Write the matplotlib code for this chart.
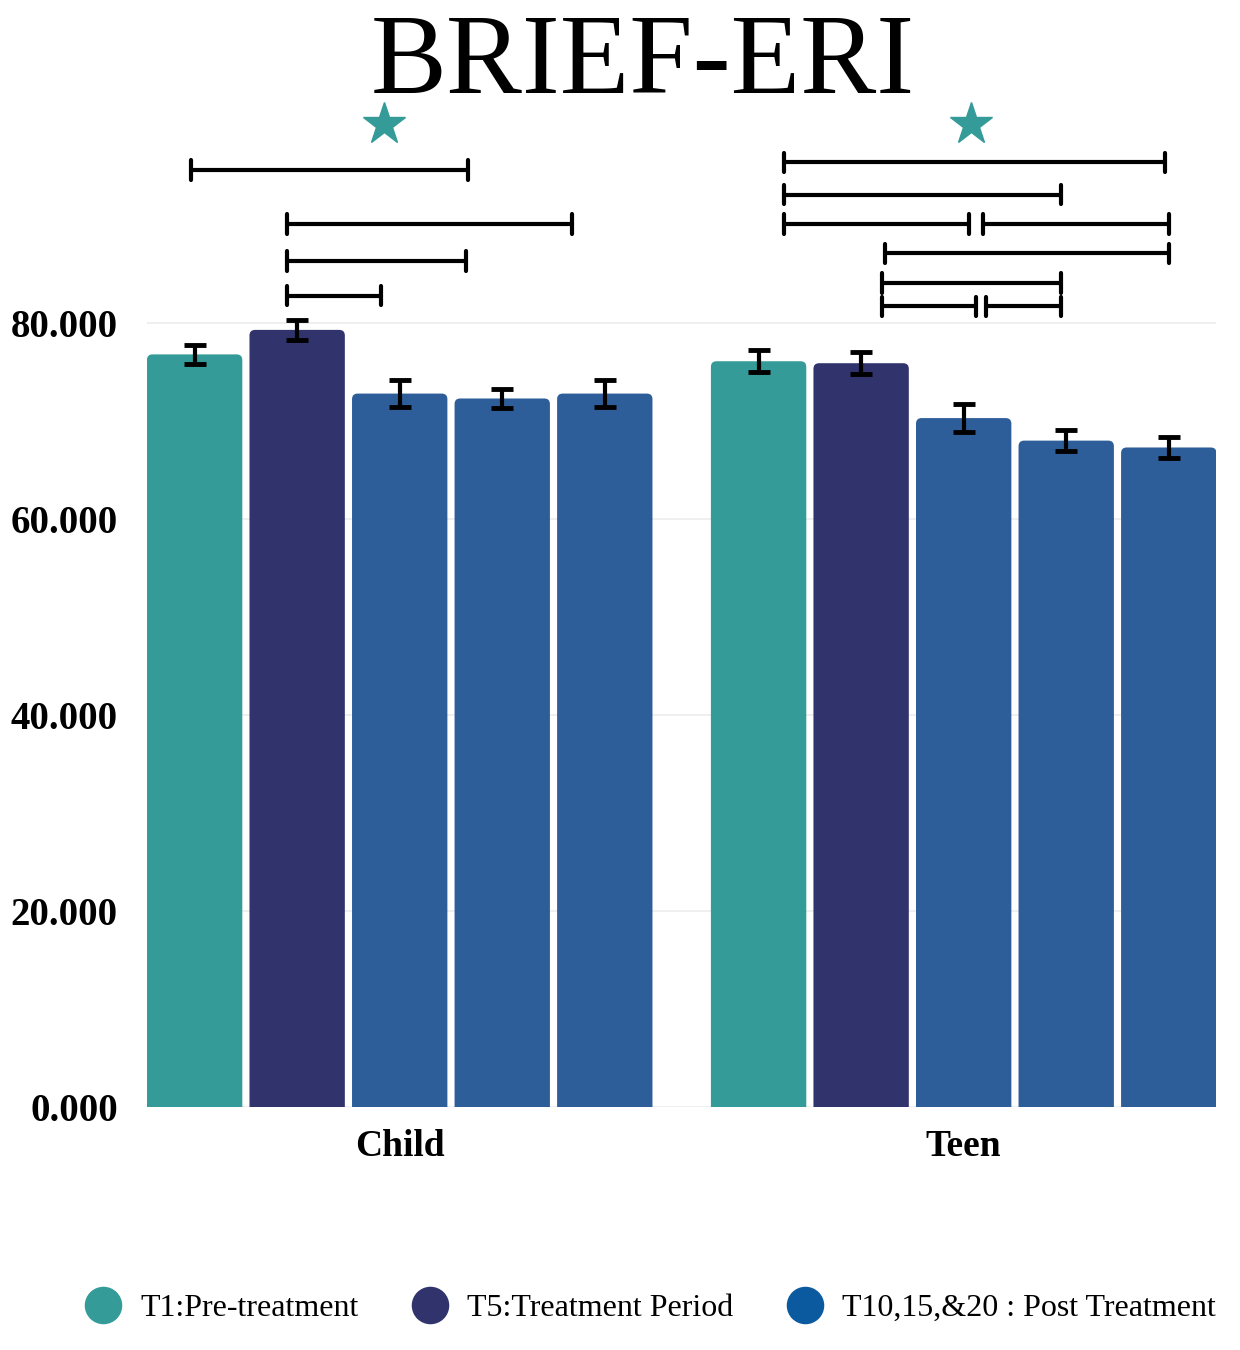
import numpy as np
import matplotlib
matplotlib.use("Agg")
import matplotlib.pyplot as plt
from matplotlib.lines import Line2D
from matplotlib.patches import FancyBboxPatch

# data
groups = ["Child", "Teen"]
times = ["T1", "T5", "T10", "T15", "T20"]
child_means = [76.8, 79.3, 72.8, 72.3, 72.8]
child_err = [1.0, 1.0, 1.4, 1.0, 1.4]
teen_means = [76.1, 75.9, 70.3, 68.0, 67.3]
teen_err = [1.1, 1.1, 1.4, 1.1, 1.1]

legend_labels = ["T1:Pre-treatment", "T5:Treatment Period", "T10,15,&20 : Post Treatment"]

# significance brackets: (x start, x end, level)
child_brackets = [(-0.04, 2.67, 95.6), (0.90, 3.68, 90.1), (0.90, 2.65, 86.3), (0.90, 1.82, 82.8)]
teen_brackets = [(5.75, 9.46, 96.4), (5.75, 8.45, 93.1), (5.75, 7.55, 90.1), (7.69, 9.50, 90.1),
                 (6.73, 9.50, 87.1), (6.70, 8.45, 84.1), (6.70, 7.62, 81.7), (7.72, 8.45, 81.7)]
star_x = [1.85, 7.57]
star_y = 100.3

teal = "#349b98"
navy = "#31346c"
blue = "#2e5e99"
legend_blue = "#0b5aa0"
bar_colors = [teal, navy, blue, blue, blue]

plt.rcParams['font.family'] = ['Liberation Serif', 'DejaVu Serif']

fig = plt.figure(figsize=(12.4, 13.5), dpi=100)
ax = fig.add_axes([0.1185, 0.18, 0.8625, 0.7622])

width = 0.93
child_x = np.arange(5)
teen_x = np.arange(5) + 5.5
ekw = dict(ecolor="black", elinewidth=3, capsize=8, capthick=3.5, zorder=4)
b1 = ax.bar(child_x, child_means, width, color=bar_colors, yerr=child_err, error_kw=ekw, zorder=2)
b2 = ax.bar(teen_x, teen_means, width, color=bar_colors, yerr=teen_err, error_kw=ekw, zorder=2)

# swap plain rectangles for ones with slightly rounded tops
for rect in list(b1.patches) + list(b2.patches):
    x, y = rect.get_xy()
    w, h = rect.get_width(), rect.get_height()
    ax.add_patch(FancyBboxPatch((x, y - 2), w, h + 2, boxstyle="round,pad=0,rounding_size=0.055",
                                mutation_aspect=10.4, facecolor=rect.get_facecolor(),
                                edgecolor="none", zorder=2))
    rect.set_visible(False)

d = 1.0
for x0, x1, y in child_brackets + teen_brackets:
    ax.plot([x0, x1], [y, y], color="black", lw=3, solid_capstyle="round", zorder=3)
    ax.plot([x0, x0], [y - d, y + d], color="black", lw=3, solid_capstyle="round", zorder=3)
    ax.plot([x1, x1], [y - d, y + d], color="black", lw=3, solid_capstyle="round", zorder=3)

ax.plot(star_x, [star_y] * 2, ls="none", marker="*", markersize=32, color=teal, clip_on=False)

ax.set_xlim(-0.465, 9.965)
ax.set_ylim(0, 105)
ax.set_yticks([0, 20, 40, 60, 80])
ax.set_yticklabels(["0.000", "20.000", "40.000", "60.000", "80.000"], fontsize=28, fontweight="bold")
ax.set_xticks([child_x.mean(), teen_x.mean()])
ax.set_xticklabels(groups, fontsize=27, fontweight="bold")
ax.tick_params(length=0)
ax.tick_params(axis="x", pad=16)
ax.tick_params(axis="y", pad=21)
ax.yaxis.grid(True, color="#ececec", lw=1.2, zorder=0)
ax.set_axisbelow(True)
for s in ax.spines.values():
    s.set_visible(False)

fig.text(0.518, 0.952, "BRIEF-ERI", ha="center", va="center", fontsize=82)

handles = [Line2D([], [], ls="none", marker="o", markersize=26, color=c)
           for c in [teal, navy, legend_blue]]
fig.legend(handles, legend_labels, loc="center", bbox_to_anchor=(0.519, 0.031), ncol=3,
           frameon=False, fontsize=23, handletextpad=0.15, columnspacing=1.25)

fig.savefig("out.png", dpi=100)
